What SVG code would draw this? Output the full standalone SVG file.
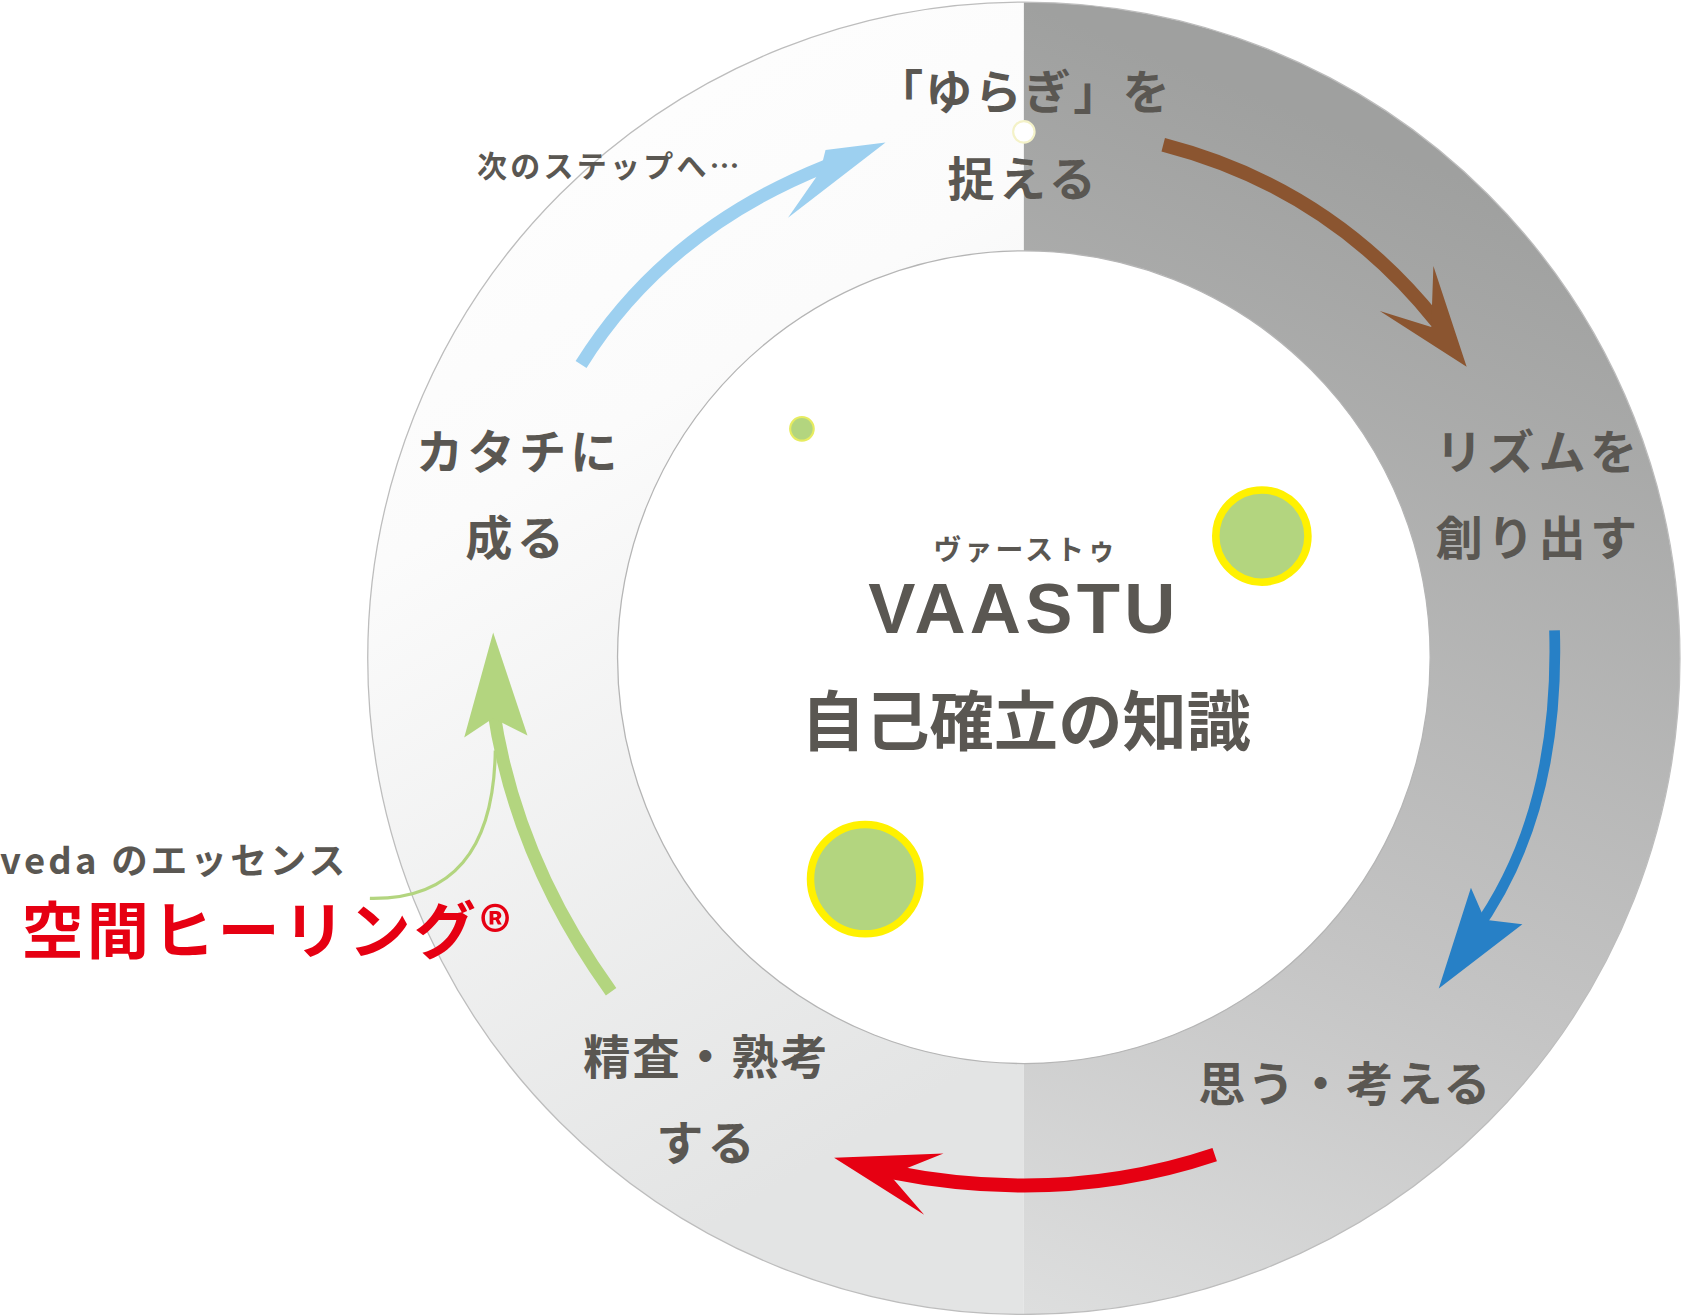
<svg xmlns="http://www.w3.org/2000/svg" width="1681" height="1315" viewBox="0 0 1681 1315">
<style>
.t{font-family:"Noto Sans CJK JP","Noto Sans",sans-serif;font-weight:700;fill:#5a5752}
</style>
<defs>
<linearGradient id="gl" x1="0" y1="0" x2="0.3" y2="1"><stop offset="0" stop-color="#ffffff"/><stop offset="0.4" stop-color="#fbfbfb"/><stop offset="1" stop-color="#e3e4e4"/></linearGradient>
<linearGradient id="gr" x1="0" y1="0" x2="-0.2" y2="1"><stop offset="0" stop-color="#9fa09f"/><stop offset="0.6" stop-color="#c4c4c4"/><stop offset="1" stop-color="#e0e1e1"/></linearGradient>
</defs>
<rect width="1681" height="1315" fill="#fff"/>
<g transform="scale(1.0721)">
<g id="ring">
<path d="M955 2 A612 612 0 0 0 955 1226 Z" fill="url(#gl)"/>
<path d="M955 2 A612 612 0 0 1 955 1226 Z" fill="url(#gr)"/>
<circle cx="955" cy="614" r="612" fill="none" stroke="#bdbdbd" stroke-width="1.2"/>
<circle cx="955" cy="613" r="379" fill="#fff" stroke="#b5b5b5" stroke-width="1.2"/>
</g>
<g id="dots">
<circle cx="955" cy="123" r="10" fill="#fff" stroke="#f4f2c8" stroke-width="2"/>
<circle cx="748" cy="400" r="11" fill="#b3d57f" stroke="#e7ec60" stroke-width="2"/>
<circle cx="1177" cy="500" r="43" fill="#b3d57f" stroke="#fff100" stroke-width="7"/>
<circle cx="807" cy="820" r="51" fill="#b3d57f" stroke="#fff100" stroke-width="7"/>
</g>
<g id="connectors">
<path d="M1085 135 Q1240 175 1340 300" fill="none" stroke="#8b5530" stroke-width="13"/>
<polygon points="1368,342 1287,290 1335,305 1337,248" fill="#8b5530"/>
<path d="M1450 588 Q1455 760 1375 870" fill="none" stroke="#2780c6" stroke-width="10"/>
<polygon points="1342,922 1372,828 1385,858 1420,862" fill="#2780c6"/>
<path d="M1133 1077 Q990 1125 830 1093" fill="none" stroke="#e60012" stroke-width="13"/>
<polygon points="778,1080 880,1076 830,1096 862,1133" fill="#e60012"/>
<path d="M570 925 Q480 800 460 660" fill="none" stroke="#b3d57f" stroke-width="12"/>
<polygon points="460,590 492,686 460,670 433,688" fill="#b3d57f"/>
<path d="M542 340 Q620 215 770 155" fill="none" stroke="#9dd0f0" stroke-width="12"/>
<polygon points="826,133 735,203 765,160 770,140" fill="#9dd0f0"/>
<path d="M345 838 Q460 840 462 700" fill="none" stroke="#b3d57f" stroke-width="3"/>
</g>
<g id="labels">
<text class="t" x="955" y="102" font-size="44" text-anchor="middle" letter-spacing="2">「ゆらぎ」を</text>
<text class="t" x="955" y="183" font-size="44" text-anchor="middle" letter-spacing="4">捉える</text>
<text class="t" x="445" y="165" font-size="28" letter-spacing="3">次のステップへ…</text>
<text class="t" x="1435" y="437" font-size="44" text-anchor="middle" letter-spacing="4">リズムを</text>
<text class="t" x="1435" y="518" font-size="44" text-anchor="middle" letter-spacing="4">創り出す</text>
<text class="t" x="484" y="437" font-size="44" text-anchor="middle" letter-spacing="4">カタチに</text>
<text class="t" x="482" y="518" font-size="44" text-anchor="middle" letter-spacing="4">成る</text>
<text class="t" x="957" y="522" font-size="26" text-anchor="middle" letter-spacing="3">ヴァーストゥ</text>
<text class="t" x="955" y="590" font-size="66" text-anchor="middle" letter-spacing="4" style="font-family:'Liberation Sans',sans-serif">VAASTU</text>
<text class="t" x="957" y="695" font-size="60" text-anchor="middle">自己確立の知識</text>
<text class="t" x="1255" y="1027" font-size="44" text-anchor="middle" letter-spacing="2">思う・考える</text>
<text class="t" x="659" y="1002" font-size="44" text-anchor="middle" letter-spacing="2">精査・熟考</text>
<text class="t" x="660" y="1082" font-size="44" text-anchor="middle" letter-spacing="4">する</text>
<text class="t" x="0" y="815" font-size="34" letter-spacing="3">veda のエッセンス</text>
<text class="t" x="20" y="890" font-size="58" letter-spacing="3" style="fill:#e60012">空間ヒーリング®</text>
</g>
</g>
</svg>
